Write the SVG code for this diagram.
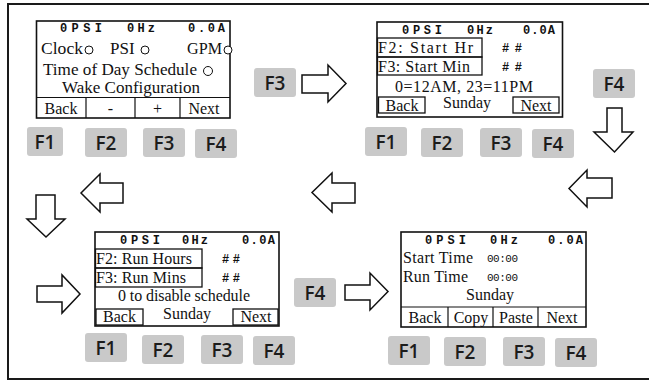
<svg xmlns="http://www.w3.org/2000/svg" width="649" height="381" viewBox="0 0 649 381">
<style>
.frame{fill:none;stroke:#1a1a1a;stroke-width:2}
.scr{fill:#fff;stroke:#111;stroke-width:1.6}
.ln{fill:none;stroke:#111;stroke-width:1.2}
.bx{fill:none;stroke:#111;stroke-width:1.3}
.t{font-family:"Liberation Serif","Times New Roman",serif;font-size:16px;fill:#111}
.b{font-size:17px}
.st{font-family:"Liberation Mono","Courier New",monospace;font-size:12px;font-weight:bold;fill:#111}
.hh{font-family:"Liberation Mono","Courier New",monospace;font-size:12px;font-weight:bold;fill:#111}
.tm{font-family:"Liberation Mono","Courier New",monospace;font-size:11px;fill:#111}
.rad{fill:#fff;stroke:#111;stroke-width:1}
.key{fill:#c9c9c9}
.fk text{font-family:"Open Sans","DejaVu Sans",sans-serif;font-size:19px;font-weight:600;fill:#1c1c1c;text-anchor:middle}
.arr{fill:#fff;stroke:#111;stroke-width:1.5;stroke-linejoin:miter}
.c{text-anchor:middle}
</style>
<rect width="649" height="381" fill="#fff"/>
<path class="frame" d="M652 4 H8 V379 H652"/>

<g id="screen1">
<rect class="scr" x="36.5" y="21" width="193.5" height="97"/>
<text class="st" x="60" y="32" textLength="42">0PSI</text>
<text class="st" x="127" y="32" textLength="28">0Hz</text>
<text class="st" x="188" y="32" textLength="37">0.0A</text>
<text class="t b" x="41" y="54" textLength="42" lengthAdjust="spacingAndGlyphs">Clock</text>
<circle class="rad" cx="89" cy="50" r="4"/>
<text class="t b" x="110" y="54">PSI</text>
<circle class="rad" cx="145" cy="50" r="4"/>
<text class="t b" x="187" y="54" textLength="35" lengthAdjust="spacingAndGlyphs">GPM</text>
<circle class="rad" cx="228" cy="50" r="4"/>
<text class="t" x="43" y="75" textLength="154" lengthAdjust="spacingAndGlyphs" style="font-size:16.5px">Time of Day Schedule</text>
<circle class="rad" cx="208" cy="71" r="4.5"/>
<text class="t" x="62" y="93" textLength="138" lengthAdjust="spacingAndGlyphs" style="font-size:16.5px">Wake Configuration</text>
<path class="ln" d="M36.5 97.5 H230 M86 97.5 V118 M135 97.5 V118 M180 97.5 V118"/>
<text class="t c" x="61" y="114">Back</text>
<text class="t c" x="110.5" y="114">-</text>
<text class="t c" x="157.5" y="114">+</text>
<text class="t c" x="204" y="114">Next</text>
</g>
<g id="keys1" class="fk">
<rect class="key" x="27" y="127" width="36" height="29" rx="3"/><text x="45" y="149">F1</text>
<rect class="key" x="85" y="128" width="42" height="29" rx="3"/><text x="106" y="150">F2</text>
<rect class="key" x="143" y="128" width="42" height="29" rx="3"/><text x="164" y="150">F3</text>
<rect class="key" x="195" y="129" width="42" height="29" rx="3"/><text x="216" y="151">F4</text>
</g>

<g id="screen2">
<rect class="scr" x="377" y="22" width="185.5" height="95"/>
<text class="st" x="402" y="34" textLength="40">0PSI</text>
<text class="st" x="467" y="34" textLength="26">0Hz</text>
<text class="st" x="523" y="34" textLength="32">0.0A</text>
<rect class="bx" x="377.5" y="38" width="104.5" height="19"/>
<rect class="bx" x="377.5" y="57" width="104.5" height="18"/>
<text class="t" x="378" y="53" textLength="95">F2: Start Hr</text>
<text class="t" x="378" y="72" textLength="92">F3: Start Min</text>
<text class="hh" x="502" y="52" textLength="20">##</text>
<text class="hh" x="502" y="71" textLength="20">##</text>
<text class="t" x="395" y="92" textLength="138">0=12AM, 23=11PM</text>
<rect class="bx" x="378.5" y="97" width="46.5" height="16"/>
<rect class="bx" x="513" y="97" width="46" height="16"/>
<text class="t c" x="402" y="111">Back</text>
<text class="t c" x="467" y="108">Sunday</text>
<text class="t c" x="536" y="111">Next</text>
</g>
<g id="keys2" class="fk">
<rect class="key" x="365" y="127" width="42" height="29" rx="3"/><text x="386" y="149">F1</text>
<rect class="key" x="421" y="128" width="42" height="29" rx="3"/><text x="442" y="150">F2</text>
<rect class="key" x="480" y="128" width="42" height="29" rx="3"/><text x="501" y="150">F3</text>
<rect class="key" x="532" y="129" width="42" height="29" rx="3"/><text x="553" y="151">F4</text>
</g>

<g id="screen3">
<rect class="scr" x="95" y="232" width="184" height="94"/>
<text class="st" x="120" y="244" textLength="40">0PSI</text>
<text class="st" x="182" y="244" textLength="26">0Hz</text>
<text class="st" x="242" y="244" textLength="33">0.0A</text>
<rect class="bx" x="95.5" y="249" width="106.5" height="19"/>
<rect class="bx" x="95.5" y="268" width="106.5" height="19"/>
<text class="t" x="96" y="264" textLength="96">F2: Run Hours</text>
<text class="t" x="96" y="283" textLength="90">F3: Run Mins</text>
<text class="hh" x="222" y="263" textLength="18">##</text>
<text class="hh" x="222" y="282" textLength="18">##</text>
<text class="t" x="118" y="301" textLength="132">0 to disable schedule</text>
<rect class="bx" x="96" y="309" width="47" height="16"/>
<rect class="bx" x="233" y="309" width="45" height="16"/>
<text class="t c" x="119.5" y="322">Back</text>
<text class="t c" x="187" y="319">Sunday</text>
<text class="t c" x="256" y="322">Next</text>
</g>
<g id="keys3" class="fk">
<rect class="key" x="85" y="333" width="42" height="29" rx="3"/><text x="106" y="355">F1</text>
<rect class="key" x="142" y="335" width="42" height="29" rx="3"/><text x="163" y="357">F2</text>
<rect class="key" x="201" y="335" width="42" height="29" rx="3"/><text x="222" y="357">F3</text>
<rect class="key" x="253" y="336" width="42" height="29" rx="3"/><text x="274" y="358">F4</text>
</g>

<g id="screen4">
<rect class="scr" x="401" y="232" width="185" height="95"/>
<text class="st" x="425" y="244" textLength="41">0PSI</text>
<text class="st" x="490" y="244" textLength="28">0Hz</text>
<text class="st" x="548" y="244" textLength="35">0.0A</text>
<text class="t" x="403" y="263" textLength="70">Start Time</text>
<text class="tm" x="487" y="262" textLength="31">00:00</text>
<text class="t" x="403" y="282" textLength="65">Run Time</text>
<text class="tm" x="487" y="281" textLength="31">00:00</text>
<text class="t c" x="490" y="300">Sunday</text>
<path class="ln" d="M401 307 H586 M448 307 V327 M493 307 V327 M538 307 V327"/>
<text class="t c" x="425" y="323">Back</text>
<text class="t c" x="471" y="323">Copy</text>
<text class="t c" x="516" y="323">Paste</text>
<text class="t c" x="562" y="323">Next</text>
</g>
<g id="keys4" class="fk">
<rect class="key" x="388" y="336" width="42" height="29" rx="3"/><text x="409" y="358">F1</text>
<rect class="key" x="444" y="337" width="42" height="29" rx="3"/><text x="465" y="359">F2</text>
<rect class="key" x="503" y="337" width="42" height="29" rx="3"/><text x="524" y="359">F3</text>
<rect class="key" x="555" y="338" width="42" height="29" rx="3"/><text x="576" y="360">F4</text>
</g>

<g id="key-f3-top" class="fk"><rect class="key" x="254" y="68" width="42" height="29" rx="3"/><text x="275" y="90">F3</text></g>
<g id="key-f4-right" class="fk"><rect class="key" x="593" y="69" width="42" height="29" rx="3"/><text x="614" y="91">F4</text></g>
<g id="key-f4-mid" class="fk"><rect class="key" x="294" y="278" width="42" height="29" rx="3"/><text x="315" y="300">F4</text></g>

<g id="connectors">
<polygon class="arr" points="302,75 328,75 328,65 346,83.5 328,102 328,93 302,93"/>
<polygon class="arr" points="607,108 622,108 622,132 633,132 614.5,152 594,132 607,132"/>
<polygon class="arr" points="612,178 587,178 587,170 569,188.5 587,207 587,198 612,198"/>
<polygon class="arr" points="355,183 332,183 332,173 312,192.5 332,212 332,203 355,203"/>
<polygon class="arr" points="123,183 100,183 100,174 81,193 100,212 100,203 123,203"/>
<polygon class="arr" points="36,195 55,195 55,219 65,219 46,237 27,219 36,219"/>
<polygon class="arr" points="37,286 62,286 62,275 80,294 62,313 62,302 37,302"/>
<polygon class="arr" points="345,285 370,285 370,273 388,291.5 370,310 370,300 345,300"/>
</g>
</svg>
